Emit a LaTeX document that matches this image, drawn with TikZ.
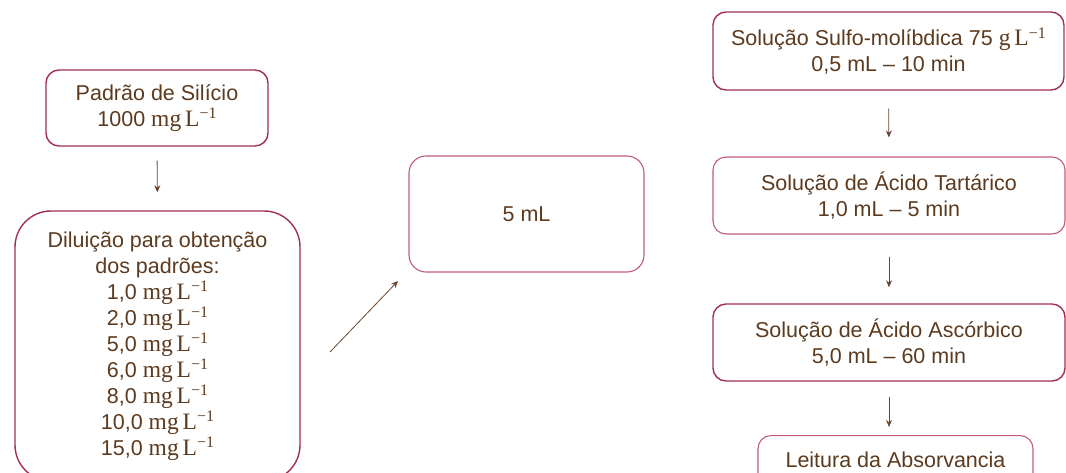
\documentclass[tikz,border=0pt]{standalone}
\usepackage{fontspec}
\setmainfont{Liberation Sans}
\newfontfamily\unitfont{Liberation Serif}
\usetikzlibrary{arrows.meta}
\definecolor{txtbrown}{HTML}{5C3A1E}
\definecolor{frameA}{HTML}{A12E55}
\definecolor{frameB}{HTML}{C05A7C}
\definecolor{arrowbrown}{HTML}{6A4530}
% units set in a serif face, with a raised "−1"
\newcommand{\unitexp}[1]{{\unitfont\fontsize{23.5}{26}\selectfont #1\,L\raisebox{0.72ex}{\fontsize{16}{16}\selectfont −1}}}
\newcommand{\mgL}{\unitexp{mg}}
\tikzset{
  box/.style={draw=frameA, line width=1.4pt, rounded corners=13pt, text=txtbrown,
    align=center, inner sep=0pt, font=\fontsize{21.5}{26}\selectfont},
  lightbox/.style={box, draw=frameB, line width=1.1pt},
  flow/.style={draw=arrowbrown, line width=0.8pt, -{Stealth[length=7pt,width=6pt]}}
}
\begin{document}
\begin{tikzpicture}[x=1pt,y=-1pt]
\useasboundingbox (0,0) rectangle (1066,472);
% left column
\node[box, minimum width=222pt, minimum height=76pt] (pad) at (157,108)
  {Padrão de Silício\\1000 \mgL};
\node[box, rounded corners=36pt, minimum width=285pt, minimum height=270pt] (dil) at (157.5,346)
  {Diluição para obtenção\\dos padrões:\\1,0 \mgL\\2,0 \mgL\\5,0 \mgL\\6,0 \mgL\\8,0 \mgL\\10,0 \mgL\\15,0 \mgL};
% middle
\node[lightbox, rounded corners=17pt, minimum width=235pt, minimum height=116pt] (vol) at (526.5,214) {5 mL};
% right column
\node[box, minimum width=351pt, minimum height=78pt] (sulfo) at (888.5,51)
  {Solução Sulfo-molíbdica 75 \unitexp{g}\\0,5 mL – 10 min};
\node[lightbox, minimum width=352pt, minimum height=77pt] (tart) at (889,195.5)
  {Solução de Ácido Tartárico\\1,0 mL – 5 min};
\node[box, minimum width=352pt, minimum height=77pt] (asc) at (889,342.5)
  {Solução de Ácido Ascórbico\\5,0 mL – 60 min};
\node[lightbox, minimum width=275pt, minimum height=60pt, anchor=north] (abs) at (895.5,435)
  {};
\node[text=txtbrown, font=\fontsize{21.5}{26}\selectfont, anchor=base] (abstxt) at (895.5,467)
  {Leitura da Absorvancia};
% connectors
\coordinate (d1) at (330,352);
\coordinate (d2) at (398,281);
\draw[flow, shorten <=14pt, shorten >=18pt] (pad.south) -- (dil.north);
\draw[flow] (d1) -- (d2);
\draw[flow, shorten <=18pt, shorten >=19pt] (sulfo.south) -- (tart.north);
\draw[flow, shorten <=22pt, shorten >=16pt] (tart.south) -- (asc.north);
\draw[flow, shorten <=15pt, shorten >=8pt] (asc.south) -- (asc.south |- abs.north);
\end{tikzpicture}
\end{document}
